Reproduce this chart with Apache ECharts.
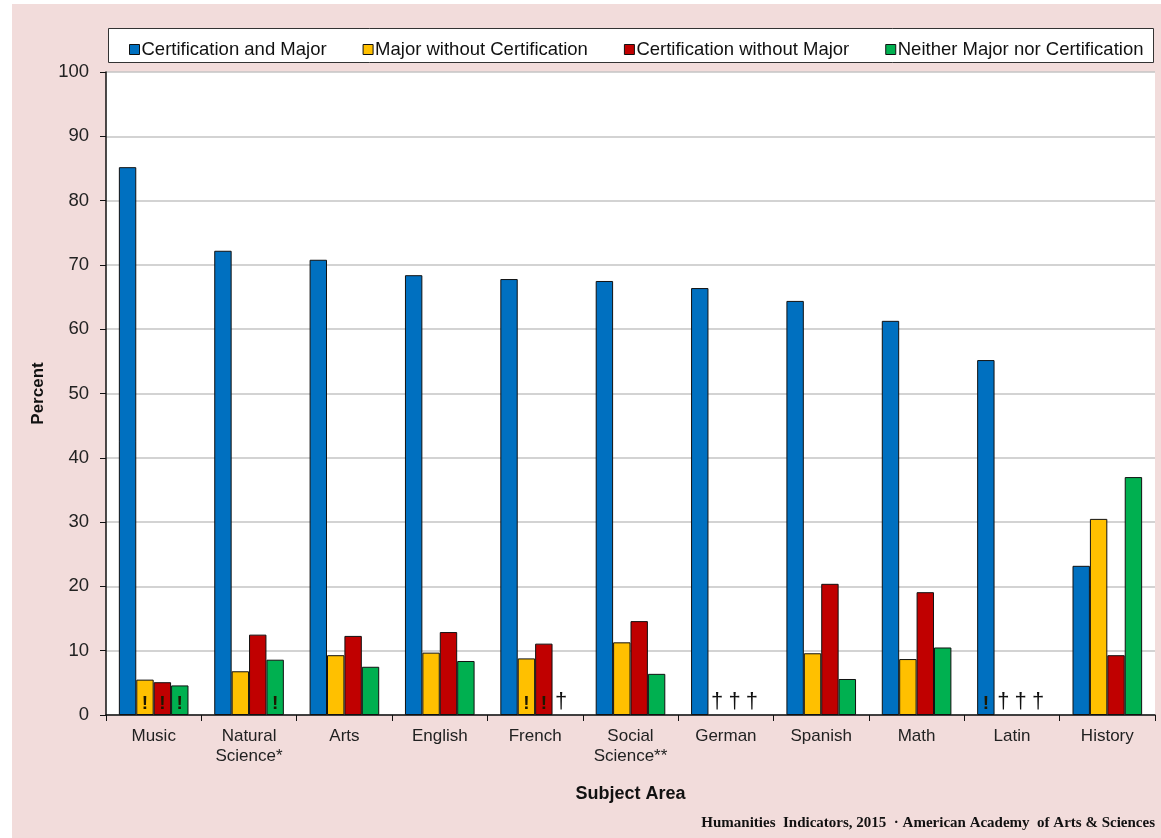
<!DOCTYPE html>
<html><head><meta charset="utf-8">
<script src="https://cdn.jsdelivr.net/npm/echarts@6/dist/echarts.min.js"></script>
<style>html,body{margin:0;padding:0;background:#fff}#c{width:1161px;height:838px}</style>
</head><body><div id="c"></div>
<script>
var categories = ['Music', 'Natural\nScience*', 'Arts', 'English', 'French', 'Social\nScience**', 'German', 'Spanish', 'Math', 'Latin', 'History'];
var seriesNames = ['Certification and Major', 'Major without Certification', 'Certification without Major', 'Neither Major nor Certification'];
var certAndMajor   = [85.2, 72.2, 70.8, 68.4, 67.8, 67.5, 66.4, 64.4, 61.3, 55.2, 23.2];
var majorNoCert    = [5.5, 6.8, 9.3, 9.7, 8.8, 11.3, null, 9.6, 8.7, null, 30.5];
var certNoMajor    = [5.1, 12.5, 12.3, 12.9, 11.1, 14.6, null, 20.4, 19.1, null, 9.3];
var neither        = [4.6, 8.6, 7.5, 8.4, null, 6.4, null, 5.6, 10.5, null, 37.0];
var notesCertAndMajor = ['', '', '', '', '', '', '', '', '', '!', ''];
var notesMajorNoCert  = ['!', '', '', '', '!', '', '\u2020', '', '', '\u2020', ''];
var notesCertNoMajor  = ['!', '', '', '', '!', '', '\u2020', '', '', '\u2020', ''];
var notesNeither      = ['!', '!', '', '', '\u2020', '', '\u2020', '', '', '\u2020', ''];
var yTicks = [0, 10, 20, 30, 40, 50, 60, 70, 80, 90, 100];

var colors = ['#0070C0', '#FFC000', '#C00000', '#00B050'];
var allVals = [certAndMajor, majorNoCert, certNoMajor, neither];
var allNotes = [notesCertAndMajor, notesMajorNoCert, notesCertNoMajor, notesNeither];

function buildData(vals, notes) {
  return vals.map(function (v, i) {
    var n = notes[i];
    var item = { value: v == null ? 0 : v };
    if (v == null) item.itemStyle = { borderWidth: 0 };
    if (n) {
      item.label = {
        show: true, position: 'insideBottom', distance: 2,
        formatter: n,
        color: n === '!' ? '#1e1800' : '#111',
        fontSize: n === '!' ? 19 : 22,
        fontWeight: n === '!' ? 'bold' : 'normal',
        fontFamily: 'Liberation Sans',
        textShadowColor: n === '!' ? 'transparent' : '#9fc6ee',
        textShadowOffsetX: 2, textShadowBlur: 0
      };
    }
    return item;
  });
}

var series = seriesNames.map(function (name, k) {
  return {
    name: name, type: 'bar', barGap: '0%', barCategoryGap: '27%',
    itemStyle: { color: colors[k], borderColor: '#111', borderWidth: 1 },
    data: buildData(allVals[k], allNotes[k]),
    animation: false
  };
});

var chart = echarts.init(document.getElementById('c'), null, { renderer: 'canvas' });
chart.setOption({
  backgroundColor: '#ffffff',
  animation: false,
  graphic: [
    { type: 'rect', left: 12, top: 4, shape: { width: 1149, height: 834 }, style: { fill: '#F2DCDB' }, z: -10, silent: true },
    { type: 'rect', left: 106, top: 72, shape: { width: 1049, height: 643 }, style: { fill: '#ffffff' }, z: -5, silent: true },
    { type: 'rect', left: 108, top: 28, shape: { width: 1045, height: 34 }, style: { fill: '#ffffff', stroke: '#333', lineWidth: 1 }, z: 0, silent: true },
    { type: 'text', right: 6, top: 816, style: { text: 'Humanities  Indicators, 2015  \u00b7 American Academy  of Arts & Sciences', font: 'bold 15px "Liberation Serif"', fill: '#111' } }
  ],
  legend: {
    top: 35, left: 124, width: 1060, itemGap: 36, padding: [5, 0, 5, 5],
    icon: 'rect', itemWidth: 10, itemHeight: 10,
    textStyle: { fontFamily: 'Liberation Sans', fontSize: 18.5, color: '#111', padding: [0, 0, 0, -3] },
    itemStyle: { borderColor: '#111', borderWidth: 1 },
    data: seriesNames
  },
  grid: { left: 106, right: 6, top: 72, bottom: 123, containLabel: false },
  xAxis: {
    type: 'category', data: categories,
    name: 'Subject Area', nameLocation: 'middle', nameGap: 70,
    nameTextStyle: { fontFamily: 'Liberation Sans', fontSize: 18, fontWeight: 'bold', color: '#111' },
    axisLine: { lineStyle: { color: '#111', width: 1.5 } },
    axisTick: { show: true, alignWithLabel: false, length: 6, lineStyle: { color: '#111' } },
    axisLabel: { fontFamily: 'Liberation Sans', fontSize: 17, color: '#222', margin: 11, lineHeight: 20, interval: 0 }
  },
  yAxis: {
    type: 'value', min: 0, max: 100, interval: 10,
    name: 'Percent', nameLocation: 'middle', nameGap: 58, nameRotate: 90,
    nameTextStyle: { fontFamily: 'Liberation Sans', fontSize: 17, fontWeight: 'bold', color: '#111' },
    axisLine: { show: true, lineStyle: { color: '#111', width: 1.5 } },
    axisTick: { show: true, length: 6, lineStyle: { color: '#111' } },
    axisLabel: { fontFamily: 'Liberation Sans', fontSize: 18.5, color: '#222', margin: 17,
      formatter: function (v) { return yTicks.indexOf(v) >= 0 ? String(v) : ''; } },
    splitLine: { lineStyle: { color: '#c4c4c4', width: 1.5 } }
  },
  series: series
});
</script></body></html>
